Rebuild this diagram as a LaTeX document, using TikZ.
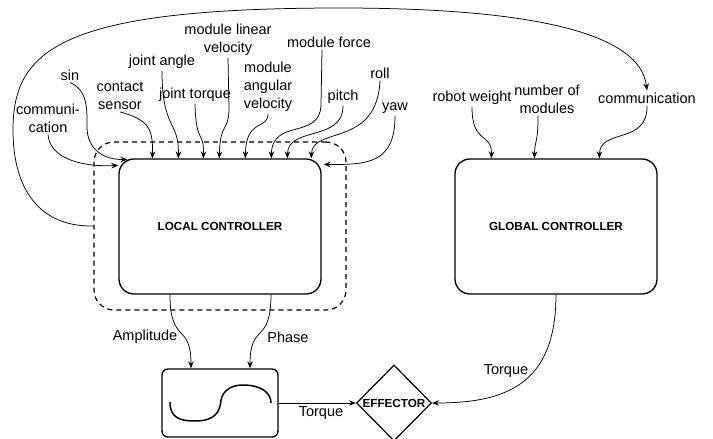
\documentclass[tikz,border=0pt]{standalone}
\usepackage{fontspec}
\setmainfont{Liberation Sans}
\usetikzlibrary{shapes.geometric,arrows.meta,calc}
\begin{document}
\begin{tikzpicture}[x=1pt,y=-1pt,
  lbl/.style={font=\fontsize{14.5}{18}\selectfont, align=center, inner sep=2pt},
  ctrl/.style={draw, line width=1.3pt, rounded corners=15pt, minimum width=202pt, minimum height=135pt, font=\bfseries\fontsize{11.7}{14}\selectfont},
  arr/.style={-{Stealth[length=7pt,width=5.5pt]}, line width=0.75pt},
]
\fill[white] (0,0) rectangle (713,439);
\useasboundingbox (0,0) rectangle (713,439);
\clip (0,0) rectangle (713,439);

% group and boxes
\node[draw, dash pattern=on 5pt off 4pt, line width=1.2pt, rounded corners=20pt, minimum width=252pt, minimum height=168pt] (grp) at (220,226) {};
\node[ctrl] (lc) at (220,226.5) {LOCAL CONTROLLER};
\node[ctrl] (gc) at (556,226.5) {GLOBAL CONTROLLER};
\node[draw, line width=1.3pt, rounded corners=6pt, minimum width=116pt, minimum height=68pt] (wave) at (220,403) {};
\node[draw, diamond, line width=1.2pt, minimum width=75pt, minimum height=76pt, inner sep=0pt, font=\bfseries\fontsize{11.7}{14}\selectfont] (eff) at (394,403) {EFFECTOR};

% waveform
\draw[line width=1.5pt] (170,402) .. controls (170,418) and (180,421) .. (195,421) .. controls (215,421) and (220,412) .. (221,400) .. controls (223,390) and (232,385) .. (243,385) .. controls (260,385) and (271,392) .. (271,403);

% labels
\node[lbl] (comL) at (48,118) {communi-\\cation};
\node[lbl] (sin) at (70,75) {sin};
\node[lbl] (cs) at (120,96) {contact\\sensor};
\node[lbl] (ja) at (162,62) {joint angle};
\node[lbl] (jt) at (195,95) {joint torque};
\node[lbl] (mlv) at (228,40) {module linear\\velocity};
\node[lbl] (mav) at (268,87) {module\\angular\\velocity};
\node[lbl] (mf) at (329,42) {module force};
\node[lbl] (pitch) at (343,97) {pitch};
\node[lbl] (roll) at (380,73) {roll};
\node[lbl] (yaw) at (395,108) {yaw};
\node[lbl] (rw) at (472,98) {robot weight};
\node[lbl] (nm) at (547,99) {number of\\modules};
\node[lbl] (comR) at (647,98) {communication};
\node[lbl] (amp) at (145,337) {Amplitude};
\node[lbl] (ph) at (288,337) {Phase};
\node[lbl] (tq1) at (321,413) {Torque};
\node[lbl] (tq2) at (506,371) {Torque};

% inputs to local controller
\draw[arr] (comL.south) .. controls (50,160) and (85,167) .. ($(lc.north west)+(0,7)$);
\draw[arr] (sin.south) .. controls (88,90) and (87,110) .. (87,127) .. controls (87,150) and (105,160) .. ($(lc.north west)+(9,1)$);
\draw[arr] (cs.south) .. controls (150,120) and (153,130) .. ($(lc.north west)+(34,0)$);
\draw[arr] (ja.south) .. controls (162,130) and (179,120) .. ($(lc.north west)+(60,0)$);
\draw[arr] (jt.south) .. controls (196,145) and (204,130) .. ($(lc.north west)+(85,0)$);
\draw[arr] (mlv.south) -- (229,108) .. controls (229,132) and (220,122) .. ($(lc.north west)+(101,0)$);
\draw[arr] (mav.south) .. controls (268,130) and (246,118) .. ($(lc.north west)+(127,0)$);
\draw[arr] ($(mf.south)+(-7,0)$) -- (321,105) .. controls (320,140) and (272,118) .. ($(lc.north west)+(153,0)$);
\draw[arr] (pitch.south) .. controls (343,142) and (288,126) .. ($(lc.north west)+(169,0)$);
\draw[arr] (roll.south) .. controls (377,148) and (312,126) .. ($(lc.north west)+(193,0)$);
\draw[arr] (yaw.south) .. controls (395,162) and (370,165) .. ($(lc.north east)+(2,6)$);

% inputs to global controller
\draw[arr] (rw.south) .. controls (472,145) and (492,132) .. ($(gc.north west)+(37,0)$);
\draw[arr] ($(nm.south)+(-9,0)$) .. controls (538,145) and (535,138) .. ($(gc.north west)+(80,0)$);
\draw[arr] (comR.south) .. controls (648,145) and (600,128) .. ($(gc.north west)+(145,0)$);

% communication loop
\draw[arr] (grp.west) .. controls (40,227) and (13,190) .. (13,130) .. controls (13,50) and (60,8) .. (340,8) .. controls (520,8) and (640,30) .. (comR.north);

% outputs
\draw[arr] ($(lc.south)+(-50,0)$) .. controls (170,345) and (191,322) .. ($(wave.north)+(-29,0)$);
\draw[arr] ($(lc.south)+(51,0)$) .. controls (271,345) and (250,322) .. ($(wave.north)+(30,0)$);
\draw[arr] (wave.east) -- (eff.west);
\draw[arr] (gc.south) .. controls (556,385) and (505,403) .. (eff.east);
\end{tikzpicture}
\end{document}
